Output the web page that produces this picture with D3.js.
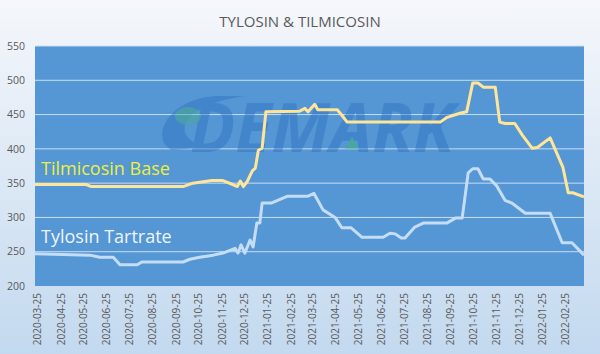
<html>
<head>
<script src="https://d3js.org/d3.v7.min.js"></script>
<style>
  body { margin: 0; }
  text { font-family: "Open Sans", sans-serif; }
</style>
</head>
<body>
<svg width="600" height="354"></svg>
<script>
// Tilmicosin Base (yellow) - date, price
const tilDates = ["2020-03-22","2020-05-29","2020-06-05","2020-10-05","2020-10-18","2020-11-12","2020-11-26","2020-12-10","2020-12-16","2020-12-20","2020-12-24","2020-12-29","2021-01-05","2021-01-09","2021-01-13","2021-01-18","2021-01-23","2021-03-09","2021-03-16","2021-03-20","2021-03-29","2021-04-02","2021-04-28","2021-05-04","2021-05-11","2021-09-12","2021-09-21","2021-10-08","2021-10-17","2021-10-25","2021-11-01","2021-11-08","2021-11-24","2021-11-30","2021-12-07","2021-12-20","2021-12-30","2022-01-12","2022-01-19","2022-02-05","2022-02-22","2022-03-01","2022-03-07","2022-03-22"];
const tilValues = [348,348,345,345,350,354,354,348,345,353,345,352,368,372,398,401,454,455,459,454,465,457,457,449,439,439,446,452,454,496,496,490,490,439,437,437,420,401,402,416,373,336,336,330];

// Tylosin Tartrate (light blue)
const tylDates = ["2020-03-22","2020-06-03","2020-06-16","2020-07-04","2020-07-13","2020-08-05","2020-08-11","2020-10-05","2020-10-14","2020-10-27","2020-11-14","2020-11-27","2020-12-13","2020-12-17","2020-12-21","2020-12-26","2021-01-02","2021-01-06","2021-01-11","2021-01-15","2021-01-18","2021-01-30","2021-02-21","2021-03-20","2021-03-28","2021-04-09","2021-04-25","2021-05-04","2021-05-16","2021-05-31","2021-06-28","2021-07-07","2021-07-14","2021-07-22","2021-07-27","2021-08-09","2021-08-21","2021-09-21","2021-10-02","2021-10-11","2021-10-19","2021-10-25","2021-11-01","2021-11-08","2021-11-17","2021-11-26","2021-12-07","2021-12-16","2022-01-03","2022-02-05","2022-02-21","2022-03-06","2022-03-22"];
const tylValues = [247,245,242,242,231,231,235,235,239,242,245,248,255,248,260,248,267,257,292,292,321,321,331,331,335,311,300,285,285,271,271,277,276,270,270,286,292,292,299,299,365,371,371,356,356,346,325,321,306,306,263,263,245];

const xTicks = ["2020-03-25","2020-04-25","2020-05-25","2020-06-25","2020-07-25","2020-08-25","2020-09-25","2020-10-25","2020-11-25","2020-12-25","2021-01-25","2021-02-25","2021-03-25","2021-04-25","2021-05-25","2021-06-25","2021-07-25","2021-08-25","2021-09-25","2021-10-25","2021-11-25","2021-12-25","2022-01-25","2022-02-25"];
const yTicks = [200,250,300,350,400,450,500,550];

const parse = d3.timeParse("%Y-%m-%d");
const fmt = d3.timeFormat("%Y-%m-%d");

const svg = d3.select("svg");
const plotL = 35, plotR = 584, plotT = 46, plotB = 286;

// background gradient
const defs = svg.append("defs");
const grad = defs.append("linearGradient").attr("id","bg")
  .attr("x1",0).attr("y1",0).attr("x2",0).attr("y2",1);
grad.append("stop").attr("offset","0%").attr("stop-color","#f5f7fb");
grad.append("stop").attr("offset","100%").attr("stop-color","#c3d9ef");
svg.append("rect").attr("width",600).attr("height",354).attr("fill","url(#bg)");

const x = d3.scaleTime().domain([parse("2020-03-22"), parse("2022-03-22")]).range([plotL, plotR]);
const y = d3.scaleLinear().domain([200, 550]).range([plotB, plotT]);

svg.append("rect").attr("x",plotL).attr("y",plotT)
  .attr("width",plotR-plotL).attr("height",plotB-plotT).attr("fill","#5596d5");

// gridlines
svg.append("g").selectAll("line").data(yTicks.slice(1)).enter().append("line")
  .attr("x1",plotL).attr("x2",plotR)
  .attr("y1",d => y(d)).attr("y2",d => y(d))
  .attr("stroke","#c9def3").attr("stroke-width",1);

// watermark logo
const logo = svg.append("g").attr("opacity",0.45);
logo.append("path")
  .attr("d","M172,150 C150,140 165,100 215,96 L245,96 C215,100 190,110 185,125 C182,138 195,145 210,147 Z")
  .attr("fill","#2f72c0");
logo.append("text").attr("x",190).attr("y",152)
  .attr("font-size",68).attr("font-weight","bold").attr("font-style","italic")
  .attr("fill","#2f72c0").attr("textLength",264).attr("lengthAdjust","spacingAndGlyphs")
  .text("DEMARK");
logo.append("ellipse").attr("cx",188).attr("cy",116).attr("rx",13).attr("ry",9)
  .attr("fill","#3dbb66").attr("opacity",0.7);
logo.append("path").attr("d","M352,137 L359,149 L345,149 Z").attr("fill","#3dbb66");

// y axis labels
svg.append("g").selectAll("text").data(yTicks).enter().append("text")
  .attr("x",25).attr("y",d => y(d)).attr("dy","0.35em")
  .attr("text-anchor","end").attr("font-size",10.5).attr("fill","#595959")
  .text(d => d);

// x axis
const xAxis = svg.append("g").attr("transform",`translate(0,${plotB})`)
  .call(d3.axisBottom(x).tickValues(xTicks.map(parse)).tickFormat(fmt).tickSize(0));
xAxis.select(".domain").remove();
xAxis.selectAll("text")
  .attr("transform","rotate(-90)")
  .attr("x",-7).attr("y",0).attr("dy","0.35em")
  .attr("text-anchor","end")
  .attr("font-size",10).attr("font-family","Open Sans").attr("fill","#595959");

const line = d3.line().x(d => x(d[0])).y(d => y(d[1]));

const tyl = tylDates.map((d,i) => [parse(d), tylValues[i]]);
const til = tilDates.map((d,i) => [parse(d), tilValues[i]]);

svg.append("path").datum(tyl).attr("d",line)
  .attr("fill","none").attr("stroke","#c4ddf5").attr("stroke-width",3).attr("stroke-linejoin","round");
svg.append("path").datum(til).attr("d",line)
  .attr("fill","none").attr("stroke","#ffe597").attr("stroke-width",3).attr("stroke-linejoin","round");

// series labels
svg.append("text").attr("x",41).attr("y",175).attr("font-size",18)
  .attr("fill","#ecf03a").text("Tilmicosin Base");
svg.append("text").attr("x",41).attr("y",243).attr("font-size",18)
  .attr("fill","#eef5fc").text("Tylosin Tartrate");

// title
svg.append("text").attr("x",300).attr("y",27).attr("text-anchor","middle")
  .attr("font-size",15).attr("fill","#595959").text("TYLOSIN & TILMICOSIN");
</script>
</body>
</html>
